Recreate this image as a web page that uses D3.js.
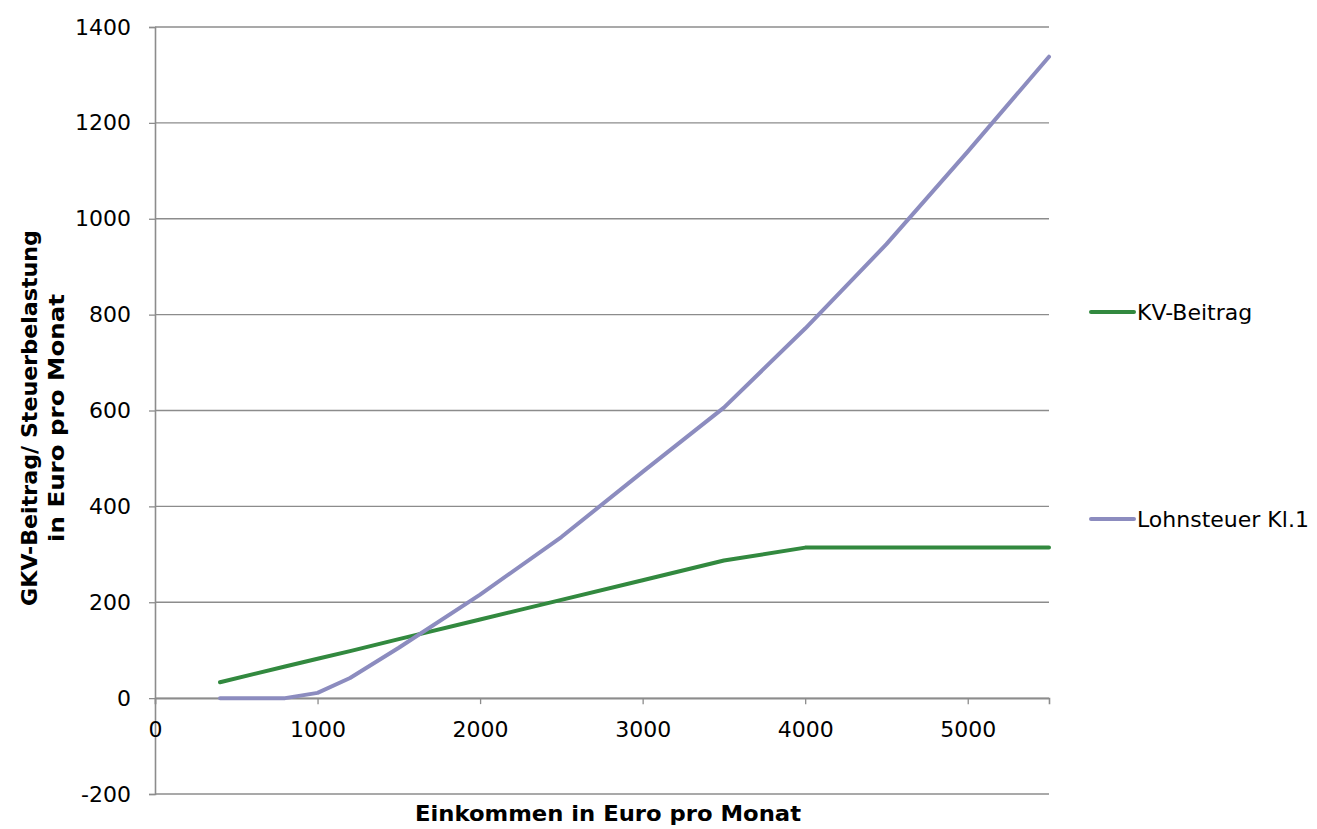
<!DOCTYPE html>
<html>
<head>
<meta charset="utf-8">
<script src="https://cdn.jsdelivr.net/npm/d3@7"></script>
<style>
  body { margin: 0; background: #fff; }
  text { font-family: "DejaVu Sans", Verdana, sans-serif; }
</style>
</head>
<body>
<div class="chart"></div>
<script>
let w = 1317;
let h = 829;

// data
let income = [400, 800, 1000, 1200, 1500, 2000, 2500, 3000, 3500, 4000, 4500, 5000, 5500];
let kvBeitrag = [33, 66, 82, 98, 123, 164, 205, 246, 287, 314, 314, 314, 314];
let lohnsteuer = [0, 0, 11, 42, 105, 216, 336, 472, 606, 771, 947, 1140, 1338];
let xTicks = [0, 1000, 2000, 3000, 4000, 5000];
let yTicks = [-200, 0, 200, 400, 600, 800, 1000, 1200, 1400];

let seriesNames = ["KV-Beitrag", "Lohnsteuer Kl.1"];
let seriesColors = ["#32893f", "#8c8cbf"];

let viz = d3.select(".chart")
  .append("svg")
    .attr("width", w)
    .attr("height", h)
;

let x = d3.scaleLinear().domain([0, 5500]).range([155, 1049]);
let y = d3.scaleLinear().domain([-200, 1400]).range([794, 27]);

let plain = d => String(d).replace("\u2212", "-");

// gridlines
viz.append("g")
  .selectAll("line")
  .data(yTicks)
  .join("line")
    .attr("x1", x(0))
    .attr("x2", x(5500))
    .attr("y1", d => y(d))
    .attr("y2", d => y(d))
    .attr("stroke", "#8c8c8c")
    .attr("stroke-width", 1.3)
;

// y axis
let yAxis = viz.append("g")
  .attr("transform", "translate(" + x(0) + ",0)")
  .call(d3.axisLeft(y).tickValues(yTicks).tickFormat(plain).tickSize(6).tickPadding(18));
yAxis.select(".domain").attr("stroke", "#8c8c8c").attr("stroke-width", 1.6);
yAxis.selectAll(".tick line").attr("stroke", "#8c8c8c").attr("stroke-width", 1.3);
yAxis.selectAll("text")
  .attr("font-family", "DejaVu Sans")
  .attr("font-size", 22)
  .attr("fill", "#000");

// x axis crossing at y = 0
let xAxis = viz.append("g")
  .attr("transform", "translate(0," + y(0) + ")")
  .call(d3.axisBottom(x).tickValues(xTicks).tickFormat(plain).tickSize(6).tickPadding(17));
xAxis.select(".domain").attr("stroke", "#8c8c8c").attr("stroke-width", 1.6);
xAxis.selectAll(".tick line").attr("stroke", "#8c8c8c").attr("stroke-width", 1.3);
xAxis.selectAll("text")
  .attr("font-family", "DejaVu Sans")
  .attr("font-size", 22)
  .attr("fill", "#000");

// lines
let allSeries = [kvBeitrag, lohnsteuer];
let lineFunction = d3.line()
  .x((d, i) => x(income[i]))
  .y(d => y(d));

viz.append("g")
  .selectAll("path")
  .data(allSeries)
  .join("path")
    .attr("d", d => lineFunction(d))
    .attr("fill", "none")
    .attr("stroke", (d, i) => seriesColors[i])
    .attr("stroke-width", 4)
    .attr("stroke-linecap", "round")
    .attr("stroke-linejoin", "round")
;

// axis titles
viz.append("text")
  .attr("x", 608)
  .attr("y", 821)
  .attr("text-anchor", "middle")
  .attr("font-size", 21)
  .attr("font-weight", "bold")
  .attr("textLength", 386)
  .attr("lengthAdjust", "spacingAndGlyphs")
  .text("Einkommen in Euro pro Monat");

let yTitle = viz.append("text")
  .attr("transform", "translate(0,418) rotate(-90)")
  .attr("text-anchor", "middle")
  .attr("font-size", 21)
  .attr("font-weight", "bold");
yTitle.append("tspan").attr("x", 0).attr("y", 37)
  .attr("textLength", 376).attr("lengthAdjust", "spacingAndGlyphs")
  .text("GKV-Beitrag/ Steuerbelastung");
yTitle.append("tspan").attr("x", 0).attr("y", 64)
  .attr("textLength", 248).attr("lengthAdjust", "spacingAndGlyphs")
  .text("in Euro pro Monat");

// legend
let legendY = [312, 519];
let legend = viz.append("g")
  .selectAll("g")
  .data(seriesNames)
  .join("g")
    .attr("transform", (d, i) => "translate(1091," + legendY[i] + ")");
legend.append("line")
  .attr("x1", 0).attr("x2", 43)
  .attr("stroke", (d, i) => seriesColors[i])
  .attr("stroke-width", 4)
  .attr("stroke-linecap", "round");
legend.append("text")
  .attr("x", 46)
  .attr("y", 8)
  .attr("font-size", 22)
  .text(d => d);
</script>
</body>
</html>
